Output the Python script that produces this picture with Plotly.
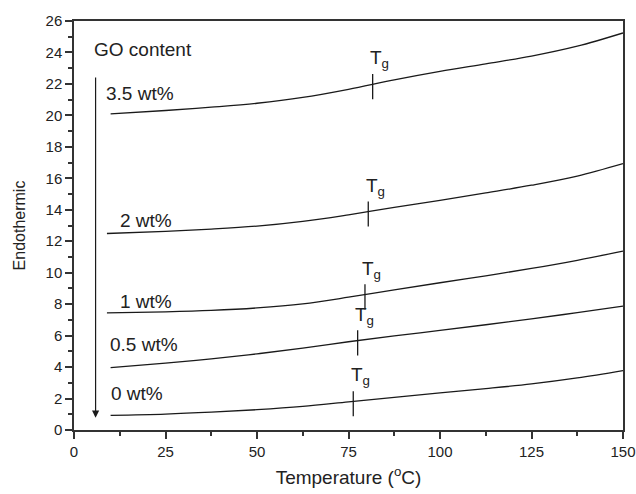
import numpy as np
import plotly.graph_objects as go

# ---- data ----
series_names = ["0 wt%", "0.5 wt%", "1 wt%", "2 wt%", "3.5 wt%"]
temps = [10, 25, 37.5, 50, 62.5, 75, 87.5, 100, 112.5, 125, 137.5, 150]
start_temps = [10, 10, 9, 9, 10]
endo_0 = [0.93, 1.01, 1.13, 1.29, 1.50, 1.79, 2.08, 2.36, 2.63, 2.93, 3.31, 3.78]
endo_05 = [3.97, 4.25, 4.52, 4.84, 5.20, 5.61, 5.98, 6.33, 6.69, 7.07, 7.46, 7.88]
endo_1 = [7.44, 7.51, 7.60, 7.76, 8.02, 8.44, 8.91, 9.36, 9.80, 10.27, 10.79, 11.37]
endo_2 = [12.49, 12.63, 12.77, 12.96, 13.26, 13.68, 14.15, 14.60, 15.07, 15.56, 16.14, 16.93]
endo_35 = [20.10, 20.31, 20.52, 20.77, 21.14, 21.66, 22.26, 22.80, 23.28, 23.77, 24.40, 25.24]
tg_temps = [76.3, 77.5, 79.5, 80.4, 81.6]

label_x = [9.6, 9.4, 12.1, 12.1, 8.2]
label_y = [2.3, 5.41, 8.2, 13.34, 21.37]

x_ticks = [0, 25, 50, 75, 100, 125, 150]
y_ticks = list(range(0, 27, 2))

all_series = [endo_0, endo_05, endo_1, endo_2, endo_35]

FONT = "Arial, Liberation Sans, sans-serif"
TXT = "#222222"
LINE = "#1a1a1a"

fig = go.Figure()

for name, vals, t0 in zip(series_names, all_series, start_temps):
    xs = [t0] + temps[1:]
    fig.add_trace(go.Scatter(x=xs, y=vals, mode="lines", name=name,
                             line=dict(color=LINE, width=1.3, shape="spline", smoothing=1.0),
                             showlegend=False, hoverinfo="skip"))

# Tg markers
for vals, tg in zip(all_series, tg_temps):
    yc = float(np.interp(tg, temps, vals))
    fig.add_trace(go.Scatter(x=[tg, tg], y=[yc - 0.95, yc + 0.65], mode="lines",
                             line=dict(color=LINE, width=1.3), showlegend=False,
                             hoverinfo="skip"))
    fig.add_annotation(x=tg - 1.3, y=yc + 0.7, xref="x", yref="y",
                       text="T<sub>g</sub>", showarrow=False, xanchor="left",
                       yanchor="bottom", font=dict(family=FONT, size=19, color=TXT))

# series labels
for name, lx, ly in zip(series_names, label_x, label_y):
    fig.add_annotation(x=lx, y=ly, xref="x", yref="y", text=name, showarrow=False,
                       xanchor="left", yanchor="middle",
                       font=dict(family=FONT, size=19, color=TXT))

fig.add_annotation(x=5.0, y=24.16, xref="x", yref="y", text="GO content", showarrow=False,
                   xanchor="left", yanchor="middle",
                   font=dict(family=FONT, size=19, color=TXT))

# arrow
fig.add_annotation(x=5.9, y=0.78, ax=5.9, ay=22.5, xref="x", yref="y",
                   axref="x", ayref="y", text="", showarrow=True,
                   arrowhead=2, arrowsize=1.2, arrowwidth=1.2, arrowcolor=LINE)

axis_common = dict(showline=True, mirror=True, linecolor="#333333", linewidth=1.5,
                   ticks="outside", tickcolor="#333333", tickwidth=1.5, ticklen=7,
                   showgrid=False, zeroline=False, automargin=False,
                   tickfont=dict(family=FONT, size=15, color=TXT))

fig.update_xaxes(range=[0, 150], tickvals=x_ticks,
                 minor=dict(dtick=12.5, ticks="outside", ticklen=4, tickcolor="#333333",
                            tickwidth=1.5, showgrid=False),
                 title=dict(text="Temperature (<sup>o</sup>C)", standoff=12,
                            font=dict(family=FONT, size=19, color=TXT)),
                 **axis_common)
fig.update_yaxes(range=[0, 26], tickvals=y_ticks,
                 minor=dict(dtick=1, ticks="outside", ticklen=4, tickcolor="#333333",
                            tickwidth=1.5, showgrid=False),
                 title=dict(text="Endothermic", standoff=16,
                            font=dict(family=FONT, size=16, color=TXT)),
                 **axis_common)

fig.update_layout(width=636, height=494, margin=dict(l=74, r=13, t=21, b=64),
                  plot_bgcolor="white", paper_bgcolor="white", showlegend=False)

fig.write_html("out.html")
